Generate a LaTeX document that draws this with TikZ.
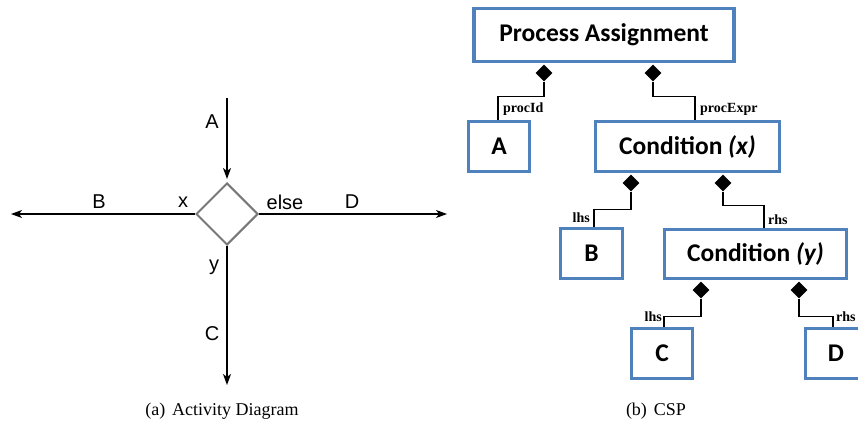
\documentclass[tikz,border=0pt]{standalone}
\usepackage{fontspec}
\setmainfont{Liberation Serif}
\newfontfamily\boxfont{Carlito}
\newfontfamily\arialfont{Liberation Sans}
\usetikzlibrary{shapes.geometric,arrows.meta}
\definecolor{boxblue}{RGB}{79,129,189}
\definecolor{diagray}{RGB}{120,120,120}
\tikzset{
  blbox/.style={draw=boxblue,line width=3.5pt,rectangle,inner sep=0pt,
    font=\boxfont\bfseries\fontsize{25.5}{28}\selectfont},
  compo/.style={diamond,fill=black,draw=none,inner sep=0pt,minimum width=17pt,minimum height=17pt},
  conn/.style={draw=black,line width=1.2pt},
  rolelabel/.style={font=\bfseries\fontsize{14}{16}\selectfont,inner sep=1pt},
  actlabel/.style={font=\arialfont\fontsize{20}{22}\selectfont,inner sep=0pt},
  flow/.style={draw=black,line width=1.2pt,-{Stealth[length=11pt,width=8pt,inset=3pt]}},
  decision/.style={diamond,draw=diagray,line width=2pt,inner sep=0pt,minimum width=62pt,minimum height=62pt},
  captext/.style={font=\fontsize{18}{20}\selectfont,inner sep=0pt}
}
\begin{document}
\begin{tikzpicture}[x=1pt,y=-1pt]
\clip (0,0) rectangle (858,430);
% ---------- (a) activity diagram ----------
\node[decision] (dec) at (227,214) {};
\coordinate (topin) at (227,98);
\coordinate (leftout) at (11,214);
\coordinate (rightout) at (447,214);
\coordinate (botout) at (227,385);
\draw[flow,shorten >=3pt] (topin) -- (dec.north);
\draw[flow] (dec.west) -- (leftout);
\draw[flow] (dec.east) -- (rightout);
\draw[flow] (dec.south) -- (botout);
\node[actlabel] (la) at (212,122) {A};
\node[actlabel] (lb) at (99,202) {B};
\node[actlabel] (lx) at (183,202) {x};
\node[actlabel] (lelse) at (285,202) {else};
\node[actlabel] (ld) at (352,202) {D};
\node[actlabel] (ly) at (214,267) {y};
\node[actlabel] (lc) at (212,334) {C};
% ---------- (b) CSP ----------
\node[blbox,minimum width=260pt,minimum height=53pt] (pa) at (604,35) {Process Assignment};
\node[blbox,minimum width=61pt,minimum height=50pt] (A) at (499,146.5) {A};
\node[blbox,minimum width=184pt,minimum height=50pt] (cx) at (687.5,146.5) {Condition \textit{(x)}};
\node[blbox,minimum width=62pt,minimum height=50pt] (B) at (591.5,253.5) {B};
\node[blbox,minimum width=182pt,minimum height=49pt] (cy) at (755.5,254) {Condition \textit{(y)}};
\node[blbox,minimum width=61pt,minimum height=50pt] (C) at (662,353.5) {C};
\node[blbox,minimum width=61pt,minimum height=50pt] (D) at (836,353.5) {D};
% composition diamonds
\node[compo] (d1) at (544,73) {};
\node[compo] (d2) at (653,73) {};
\node[compo] (d3) at (631,183) {};
\node[compo] (d4) at (723,183) {};
\node[compo] (d5) at (701,290) {};
\node[compo] (d6) at (799,290) {};
% connectors
\draw[conn] (d1.south) -- ++(0,15) -| ([xshift=-1pt]A.north);
\draw[conn] (d2.south) -- ++(0,15) -| ([xshift=7.5pt]cx.north);
\draw[conn] (d3.south) -- ++(0,18) -| ([xshift=2.5pt]B.north);
\draw[conn] (d4.south) -- ++(0,14) -| ([xshift=8.5pt]cy.north);
\draw[conn] (d5.south) -- ++(0,18) -| ([xshift=2pt]C.north);
\draw[conn] (d6.south) -- ++(0,18) -| ([xshift=-3pt]D.north);
% role labels
\node[rolelabel,anchor=west] (r1) at (502,109) {procId};
\node[rolelabel,anchor=west] (r2) at (699,109) {procExpr};
\node[rolelabel,anchor=east] (r3) at (591,218) {lhs};
\node[rolelabel,anchor=west] (r4) at (767,220) {rhs};
\node[rolelabel,anchor=east] (r5) at (663,317) {lhs};
\node[rolelabel,anchor=west] (r6) at (835,317) {rhs};
% captions
\node[captext] (capa) at (222,411) {(a)\hspace{7pt}Activity Diagram};
\node[captext] (capb) at (656,411) {(b)\hspace{7pt}CSP};
\end{tikzpicture}
\end{document}
